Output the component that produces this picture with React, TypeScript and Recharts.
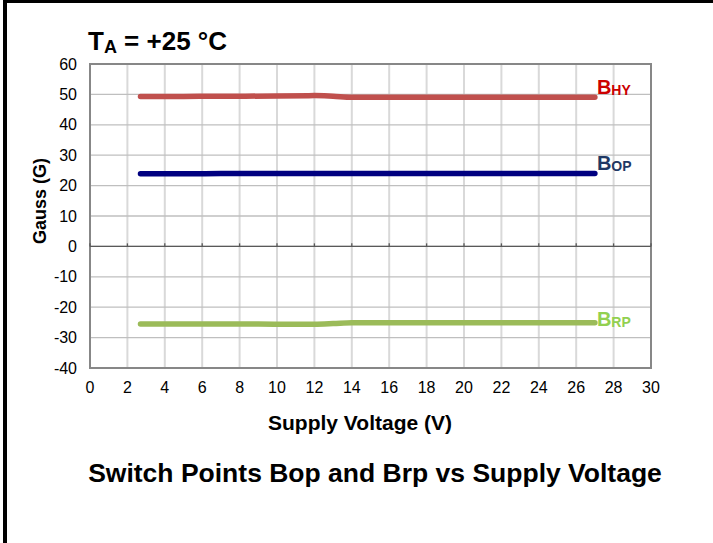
import React from 'react';
import { LineChart, Line, XAxis, YAxis, CartesianGrid, ReferenceLine, ReferenceArea } from 'recharts';

const voltage = [2.7, 4, 6, 8, 10, 12, 13, 14, 16, 18, 20, 22, 24, 26, 27];
const bhy = [49.3, 49.3, 49.4, 49.4, 49.5, 49.6, 49.4, 49.1, 49.1, 49.1, 49.1, 49.1, 49.1, 49.1, 49.1];
const bop = [23.9, 23.9, 23.9, 24.0, 24.0, 24.0, 24.0, 24.0, 24.0, 24.0, 24.0, 24.0, 24.0, 24.0, 24.0];
const brp = [-25.5, -25.5, -25.5, -25.5, -25.6, -25.6, -25.4, -25.1, -25.1, -25.1, -25.1, -25.1, -25.1, -25.1, -25.1];

const xTicks = [0, 2, 4, 6, 8, 10, 12, 14, 16, 18, 20, 22, 24, 26, 28, 30];
const yTicks = [-40, -30, -20, -10, 0, 10, 20, 30, 40, 50, 60];

const data = voltage.map((v, i) => ({ v, hy: bhy[i], op: bop[i], rp: brp[i] }));

const FONT = "Arial, 'Liberation Sans', sans-serif";

const makeLabel = (main: string, sub: string, color: string, dy: number) => (props: any) => {
  const { x, y, index } = props;
  if (index !== data.length - 1) return null;
  return (
    <text x={x + 2} y={y + dy} fill={color} fontFamily={FONT} fontWeight="bold">
      <tspan fontSize={20}>{main}</tspan>
      <tspan fontSize={14} dy={1}>{sub}</tspan>
    </text>
  );
};

export default function App() {
  return (
    <div style={{ position: 'absolute', left: 0, top: 0, width: 713, height: 543, overflow: 'hidden', background: '#fff' }}>
      <div style={{ position: 'absolute', left: 3, top: 0, width: 760, height: 600, border: '3px solid #000', borderLeftWidth: 4, boxSizing: 'border-box' }} />
      <div style={{ position: 'absolute', left: 0, top: 0 }}>
        <LineChart width={713} height={543} data={data} margin={{ top: 64, right: 62, left: 30, bottom: 135 }}>
          <CartesianGrid horizontal={false} stroke="#d9d9d9" strokeWidth={2} />
          <CartesianGrid vertical={false} stroke="#bfbfbf" strokeWidth={1.3} />
          <XAxis
            dataKey="v"
            type="number"
            domain={[0, 30]}
            ticks={xTicks}
            axisLine={false}
            tickLine={false}
            tickMargin={8}
            height={40}
            tick={{ fontSize: 16, fill: '#000', fontFamily: FONT }}
            interval={0}
          />
          <YAxis
            type="number"
            domain={[-40, 60]}
            ticks={yTicks}
            axisLine={false}
            tickLine={false}
            tickMargin={7}
            width={60}
            tick={{ fontSize: 16, fill: '#000', fontFamily: FONT }}
            interval={0}
          />
          <ReferenceLine y={0} stroke="#595959" strokeWidth={1.3} />
          {xTicks.map((t) => (
            <ReferenceLine key={t} segment={[{ x: t, y: 0 }, { x: t, y: 1 }]} stroke="#595959" strokeWidth={1.3} />
          ))}
          <ReferenceArea x1={0} x2={30} y1={-40} y2={60} fill="none" stroke="#878787" strokeWidth={2} />
          <Line type="monotone" dataKey="hy" stroke="#c0504d" strokeWidth={5.5} dot={false} strokeLinecap="round" isAnimationActive={false} label={makeLabel('B', 'HY', '#cc0000', -3)} />
          <Line type="monotone" dataKey="op" stroke="#000080" strokeWidth={5.5} dot={false} strokeLinecap="round" isAnimationActive={false} label={makeLabel('B', 'OP', '#1f3864', -3)} />
          <Line type="monotone" dataKey="rp" stroke="#9bbb59" strokeWidth={5.5} dot={false} strokeLinecap="round" isAnimationActive={false} label={makeLabel('B', 'RP', '#92d050', 3)} />
        </LineChart>
      </div>
      <svg width={713} height={543} style={{ position: 'absolute', left: 0, top: 0, pointerEvents: 'none' }}>
        <text x={88} y={50} fontFamily={FONT} fontWeight="bold" fontSize={26} fill="#000">
          <tspan>T</tspan>
          <tspan fontSize={18} dy={3}>A</tspan>
          <tspan dy={-3}> = +25 °C</tspan>
        </text>
        <text x={0} y={0} transform="translate(46,201) rotate(-90)" textAnchor="middle" fontFamily={FONT} fontWeight="bold" fontSize={18} fill="#000">Gauss (G)</text>
        <text x={360} y={430} textAnchor="middle" fontFamily={FONT} fontWeight="bold" fontSize={21} fill="#000">Supply Voltage (V)</text>
        <text x={375} y={482} textAnchor="middle" fontFamily={FONT} fontWeight="bold" fontSize={26.5} fill="#000">Switch Points Bop and Brp vs Supply Voltage</text>
      </svg>
    </div>
  );
}
